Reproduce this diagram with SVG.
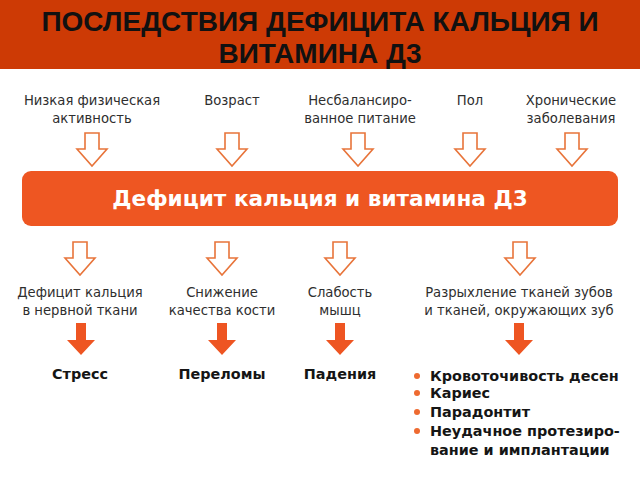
<svg xmlns="http://www.w3.org/2000/svg" xmlns:xlink="http://www.w3.org/1999/xlink" width="640" height="480" viewBox="0 0 640 480">
<style>
.title{font-family:"Liberation Sans",Arial,sans-serif;font-weight:bold;font-size:28px;fill:#111;text-anchor:middle}
.lbl{font-family:"DejaVu Sans","Noto Sans",sans-serif;font-size:13.2px;fill:#2e2e2e;text-anchor:middle}
.res{font-family:"DejaVu Sans","Noto Sans",sans-serif;font-weight:bold;font-size:14.4px;fill:#151515}
.mid{text-anchor:middle}
.bar{font-family:"DejaVu Sans","Noto Sans",sans-serif;font-weight:bold;font-size:21.6px;fill:#fff;text-anchor:middle}
.hollow{fill:#fff;stroke:#E8743A;stroke-width:1.6;stroke-linejoin:miter}
.solid{fill:#EE5522}
.dot{fill:#EE6A30}
</style>
<defs>
<path id="ha" d="M-7,0 H7 V16 H15 L0,33 L-15,16 H-7 Z"/>
<path id="sa" d="M-5,0 H5 V17 H14 L0,32 L-14,17 H-5 Z"/>
</defs>
<rect x="0" y="0" width="640" height="480" fill="#fff"/>
<g id="header">
<rect x="0" y="0" width="640" height="69" fill="#CD3A05"/>
<text class="title" x="320" y="31">ПОСЛЕДСТВИЯ ДЕФИЦИТА КАЛЬЦИЯ И</text>
<text class="title" x="320" y="63">ВИТАМИНА Д3</text>
</g>
<g id="cause-activity"><text class="lbl" x="92" y="105">Низкая физическая</text><text class="lbl" x="92" y="123">активность</text></g>
<g id="cause-age"><text class="lbl" x="232" y="105">Возраст</text></g>
<g id="cause-diet"><text class="lbl" x="360" y="105">Несбалансиро-</text><text class="lbl" x="360" y="123">ванное питание</text></g>
<g id="cause-sex"><text class="lbl" x="470" y="105">Пол</text></g>
<g id="cause-chronic"><text class="lbl" x="571" y="105">Хронические</text><text class="lbl" x="571" y="123">заболевания</text></g>
<g id="deficit">
<rect x="22" y="171" width="596" height="55" rx="9" fill="#EE5622"/>
<text class="bar" x="320" y="206">Дефицит кальция и витамина Д3</text>
</g>
<g id="effect-nerve"><text class="lbl" x="80" y="297">Дефицит кальция</text><text class="lbl" x="80" y="315">в нервной ткани</text></g>
<g id="effect-bone"><text class="lbl" x="222" y="297">Снижение</text><text class="lbl" x="222" y="315">качества кости</text></g>
<g id="effect-muscle"><text class="lbl" x="340" y="297">Слабость</text><text class="lbl" x="340" y="315">мышц</text></g>
<g id="effect-teeth"><text class="lbl" x="519" y="297">Разрыхление тканей зубов</text><text class="lbl" x="519" y="315">и тканей, окружающих зуб</text></g>
<g id="result-stress"><text class="res mid" x="80" y="379">Стресс</text></g>
<g id="result-fractures"><text class="res mid" x="222" y="379">Переломы</text></g>
<g id="result-falls"><text class="res mid" x="340" y="379">Падения</text></g>
<g id="result-teeth">
<circle class="dot" cx="417" cy="376" r="3"/><text class="res" x="430" y="381">Кровоточивость десен</text>
<circle class="dot" cx="417" cy="393" r="3"/><text class="res" x="430" y="398">Кариес</text>
<circle class="dot" cx="417" cy="412" r="3"/><text class="res" x="430" y="417">Парадонтит</text>
<circle class="dot" cx="417" cy="431" r="3"/><text class="res" x="430" y="436">Неудачное протезиро-</text>
<text class="res" x="430" y="455">вание и имплантации</text>
</g>
<g id="connectors">
<use xlink:href="#ha" class="hollow" x="92" y="133"/>
<use xlink:href="#ha" class="hollow" x="232" y="133"/>
<use xlink:href="#ha" class="hollow" x="358" y="133"/>
<use xlink:href="#ha" class="hollow" x="470" y="133"/>
<use xlink:href="#ha" class="hollow" x="572" y="133"/>
<use xlink:href="#ha" class="hollow" x="80" y="242"/>
<use xlink:href="#ha" class="hollow" x="222" y="242"/>
<use xlink:href="#ha" class="hollow" x="340" y="242"/>
<use xlink:href="#ha" class="hollow" x="520" y="242"/>
<use xlink:href="#sa" class="solid" x="81" y="323"/>
<use xlink:href="#sa" class="solid" x="222" y="323"/>
<use xlink:href="#sa" class="solid" x="340" y="323"/>
<use xlink:href="#sa" class="solid" x="519" y="323"/>
</g>
</svg>
